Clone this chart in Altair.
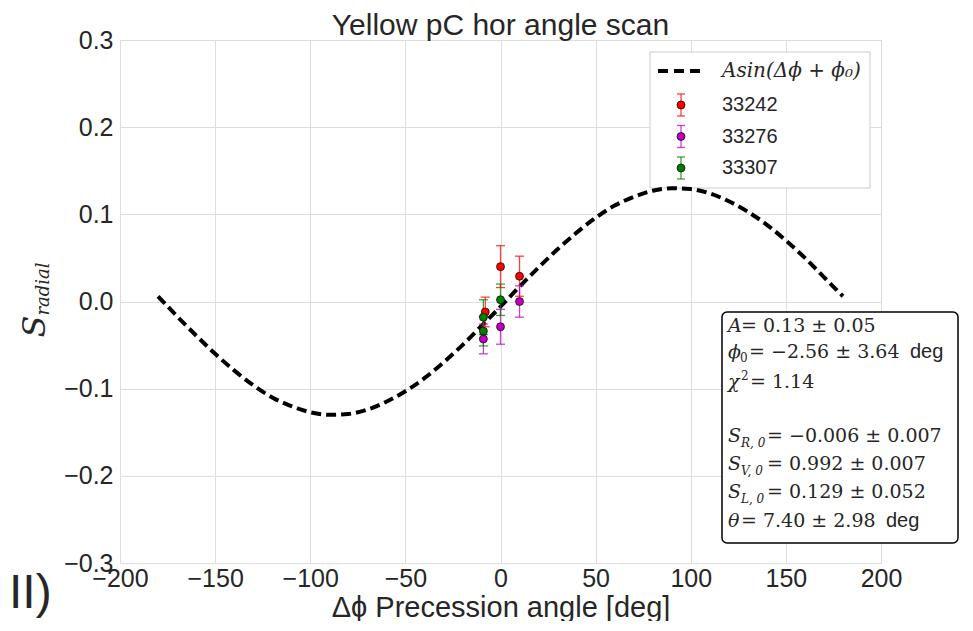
import altair as alt
import pandas as pd

# ---------------- data ----------------
chart_title = "Yellow pC hor angle scan"
x_title = "Δϕ Precession angle [deg]"
panel_label = "II)"

runs = ["33242", "33276", "33307"]
run_colors = ["#ff0000", "#bf00bf", "#008000"]

point_run = ["33242", "33242", "33242", "33276", "33276", "33276", "33307", "33307", "33307"]
point_dphi = [-8, 0, 10, -9, 0, 10, -9, -9, 0]
point_s = [-0.012, 0.040, 0.029, -0.043, -0.029, 0.000, -0.018, -0.034, 0.002]
point_err = [0.017, 0.024, 0.023, 0.017, 0.020, 0.018, 0.020, 0.017, 0.018]

fit_dphi = list(range(-180, 181, 10))
fit_s = [0.006, -0.017, -0.039, -0.060, -0.079, -0.096, -0.110, -0.120, -0.127, -0.130,
         -0.129, -0.124, -0.115, -0.103, -0.088, -0.070, -0.050, -0.028, -0.006,
         0.017, 0.039, 0.060, 0.079, 0.096, 0.110, 0.120, 0.127, 0.130,
         0.129, 0.124, 0.115, 0.103, 0.088, 0.070, 0.050, 0.028, 0.006]
fit_label = "Asin(Δϕ + ϕ₀)"

x_ticks = [-200, -150, -100, -50, 0, 50, 100, 150, 200]
y_ticks = [-0.3, -0.2, -0.1, 0.0, 0.1, 0.2, 0.3]

# fit result box: (symbol, sub/superscript, value text, unit)
box_lines = [
    ("A", "", "= 0.13 ± 0.05", ""),
    ("ϕ", "0", "= −2.56 ± 3.64", "deg"),
    ("χ", "2", "= 1.14", ""),
    ("S", "R, 0", "= −0.006 ± 0.007", ""),
    ("S", "V, 0", "= 0.992 ± 0.007", ""),
    ("S", "L, 0", "= 0.129 ± 0.052", ""),
    ("θ", "", "= 7.40 ± 2.98", "deg"),
]

# ---------------- build ----------------
W, H = 761, 523
TXT = "#262626"
SERIF = "DejaVu Serif"
SANS = "Liberation Sans"

pts = pd.DataFrame({"run": point_run, "dphi": point_dphi, "s": point_s, "err": point_err})
pts["lo"] = pts["s"] - pts["err"]
pts["hi"] = pts["s"] + pts["err"]
fit = pd.DataFrame({"dphi": fit_dphi, "s": fit_s})
one = pd.DataFrame({"a": [0]})

xs = alt.Scale(domain=[-200, 200], nice=False, zero=False)
ys = alt.Scale(domain=[-0.3, 0.3], nice=False, zero=False)
cs = alt.Scale(domain=runs, range=run_colors)

X = alt.X("dphi:Q", scale=xs, title=x_title,
          axis=alt.Axis(values=x_ticks, format="d", titleY=53, titleBaseline="alphabetic",
                        titleFontSize=29, labelFlush=False, labelPadding=3))
Y = alt.Y("s:Q", scale=ys, title=None, axis=alt.Axis(values=y_ticks, format=".1f"))


def txt(text, x, y, size, font=SANS, style="normal", align="left",
        baseline="alphabetic", angle=0, color=TXT):
    return alt.Chart(one).mark_text(
        text=text, font=font, fontSize=size, fontStyle=style, align=align,
        baseline=baseline, angle=angle, color=color
    ).encode(x=alt.value(x), y=alt.value(y))


layers = []

# legend box (behind)
layers.append(alt.Chart(one).mark_rect(fill="white", stroke="#cccccc", strokeWidth=1).encode(
    x=alt.value(530), x2=alt.value(750), y=alt.value(12), y2=alt.value(148)))

# fit curve
layers.append(alt.Chart(fit).mark_line(color="black", strokeWidth=4, strokeDash=[10, 5],
                                       interpolate="monotone").encode(x=X, y=Y))

# error bars
layers.append(alt.Chart(pts).mark_rule(strokeWidth=1.3, opacity=0.75).encode(
    x=X, y=alt.Y("lo:Q", scale=ys), y2="hi:Q",
    color=alt.Color("run:N", scale=cs, legend=None)))
for f in ["lo", "hi"]:
    layers.append(alt.Chart(pts).mark_tick(orient="horizontal", size=9, thickness=1.3,
                                           opacity=0.75).encode(
        x=X, y=alt.Y(f + ":Q", scale=ys),
        color=alt.Color("run:N", scale=cs, legend=None)))

# points
layers.append(alt.Chart(pts).mark_circle(size=64, opacity=1, stroke="black",
                                         strokeWidth=0.7).encode(
    x=X, y=Y, color=alt.Color("run:N", scale=cs, legend=None)))

# legend contents
layers.append(alt.Chart(one).mark_rule(color="black", strokeWidth=4, strokeDash=[10, 6]).encode(
    x=alt.value(538), x2=alt.value(580), y=alt.value(31)))
layers.append(txt(fit_label, 602, 31, 20, font=SERIF, style="italic", baseline="middle"))
for i, (r, c) in enumerate(zip(runs, run_colors)):
    yy = 65 + 31.5 * i
    layers.append(alt.Chart(one).mark_rule(color=c, strokeWidth=1.3, opacity=0.75).encode(
        x=alt.value(561), y=alt.value(yy - 11), y2=alt.value(yy + 11)))
    for dy in (-11, 11):
        layers.append(alt.Chart(one).mark_rule(color=c, strokeWidth=1.3, opacity=0.75).encode(
            x=alt.value(557), x2=alt.value(565), y=alt.value(yy + dy)))
    layers.append(alt.Chart(one).mark_circle(size=64, opacity=1, color=c, stroke="black",
                                             strokeWidth=0.7).encode(
        x=alt.value(561), y=alt.value(yy)))
    layers.append(txt(r, 602, yy, 20, baseline="middle"))

# fit result box
layers.append(alt.Chart(one).mark_rect(fill="white", stroke="black", strokeWidth=1.5,
                                       cornerRadius=5).encode(
    x=alt.value(602), x2=alt.value(838), y=alt.value(272), y2=alt.value(503)))
line_y = [291.7, 318.3, 347.7, 401.7, 430, 458.3, 486.7]
for (sym, sub, val, unit), yy in zip(box_lines, line_y):
    layers.append(txt(sym, 608, yy, 19, font=SERIF, style="italic"))
    vx = 621
    if sub == "2":
        layers.append(txt(sub, 621, yy - 8, 12, font=SERIF))
        vx = 630
    elif sub == "0":
        layers.append(txt(sub, 620, yy + 4, 12, font=SERIF))
        vx = 629
    elif sub:
        layers.append(txt(sub, 621, yy + 5, 12, font=SERIF, style="italic"))
        vx = 647
    layers.append(txt(val, vx, yy, 19, font=SERIF))
    if unit:
        layers.append(txt(unit, 790 if sym == "ϕ" else 766, yy, 20))

# y-axis title S_radial
layers.append(txt("S", -85, 286.5, 32, font=SERIF, style="italic", align="center",
                  baseline="middle", angle=270))
layers.append(txt("radial", -76, 249, 18, font=SERIF, style="italic", align="center",
                  baseline="middle", angle=270))

# chart title
layers.append(txt(chart_title, W / 2, -5, 30, align="center"))

# panel label
layers.append(txt(panel_label, -111, 568, 48))

chart = alt.layer(*layers).properties(
    width=W, height=H,
    autosize=alt.AutoSizeParams(type="none"),
    padding={"left": 112, "top": 32, "right": 82, "bottom": 58},
).configure_view(stroke="#cccccc", strokeWidth=1).configure_axis(
    labelFont=SANS, labelFontSize=25, labelColor=TXT, titleFont=SANS, titleFontSize=30,
    titleColor=TXT, titleFontWeight="normal", grid=True, gridColor="#dddddd", gridWidth=1,
    domain=False, ticks=False, labelPadding=7
)

chart.save("out.html", embed_options={"renderer": "svg", "actions": False})
